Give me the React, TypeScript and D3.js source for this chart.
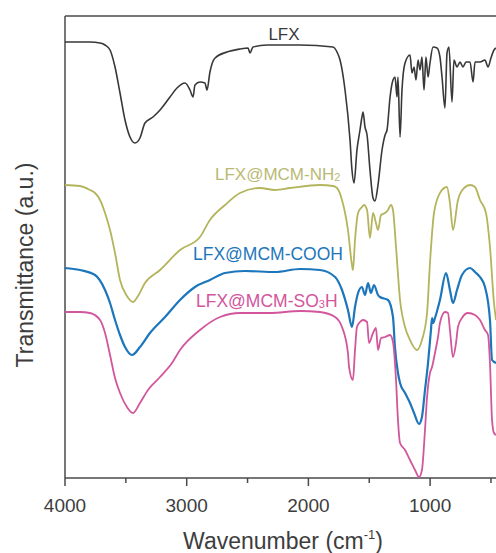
import React from "react";
import * as d3 from "d3";

const majorTicks = [4000, 3000, 2000, 1000];
const minorTicks = [3500, 2500, 1500, 500];

// [wavenumber (cm-1), transmittance (a.u., offset)]
const lfx: [number, number][] = [
  [4000, 436], [3795, 436], [3712, 435], [3671, 433], [3630, 428], [3589, 411], [3548, 385], [3507, 358], [3466, 341],
  [3425, 335], [3384, 340], [3343, 355], [3277, 361], [3219, 368], [3137, 381], [3080, 390],
  [3014, 395], [2973, 388], [2948, 381], [2932, 393], [2891, 396], [2850, 395], [2833, 388],
  [2809, 406], [2767, 420], [2669, 426], [2562, 429], [2496, 430], [2480, 425], [2455, 431],
  [2340, 433], [2069, 433], [1798, 431], [1765, 426], [1740, 418], [1699, 388], [1658, 338],
  [1642, 308], [1625, 295], [1601, 328], [1576, 348], [1560, 361], [1551, 366], [1535, 351],
  [1518, 343], [1494, 308], [1469, 280], [1453, 277], [1428, 293], [1395, 328], [1370, 343],
  [1354, 348], [1329, 381], [1305, 398], [1288, 401], [1272, 381], [1264, 401], [1247, 341],
  [1231, 388], [1206, 415], [1165, 423], [1149, 405], [1132, 411], [1116, 398], [1099, 418],
  [1083, 408], [1067, 421], [1050, 388], [1034, 421], [1017, 401], [1001, 415], [976, 431],
  [943, 430], [919, 421], [902, 401], [878, 370], [861, 425], [845, 431], [820, 376],
  [804, 418], [779, 411], [754, 416], [730, 411], [705, 416], [672, 416], [647, 396],
  [631, 416], [590, 416], [549, 418], [524, 411], [500, 420], [475, 428], [458, 430],
];

const nh2: [number, number][] = [
  [4000, 293], [3877, 292], [3795, 288], [3753, 285], [3712, 278], [3671, 265], [3630, 248], [3589, 225], [3548, 198], [3491, 182], [3441, 176], [3400, 182], [3343, 195],
  [3219, 208], [3055, 228], [2891, 241], [2809, 258], [2685, 273], [2562, 285], [2398, 290],
  [2274, 288], [2151, 290], [1905, 293], [1798, 292], [1765, 290], [1724, 278], [1675, 248], [1642, 213],
  [1634, 208], [1617, 238], [1592, 265], [1560, 271], [1543, 273], [1518, 268], [1494, 240],
  [1469, 265], [1445, 255], [1428, 248], [1403, 263], [1370, 265], [1346, 268], [1321, 273],
  [1305, 268], [1280, 231], [1247, 178], [1206, 151], [1165, 138], [1108, 128], [1067, 138],
  [1025, 165], [1001, 215], [968, 265], [919, 285], [861, 291], [837, 275], [812, 248],
  [771, 278], [721, 290], [672, 293], [631, 291], [590, 278], [541, 265], [508, 231],
  [475, 175], [458, 158],
];

const cooh: [number, number][] = [
  [4000, 210], [3877, 208], [3753, 203], [3671, 188], [3630, 175], [3589, 158], [3548, 143], [3507, 131], [3449, 123],
  [3384, 131], [3302, 145], [3178, 161], [3055, 178], [2932, 191], [2809, 198], [2685, 205],
  [2521, 207], [2274, 206], [2069, 209], [1905, 208], [1781, 201], [1724, 188], [1675, 168],
  [1642, 151], [1617, 171], [1592, 185], [1560, 191], [1535, 183], [1510, 195], [1486, 185],
  [1461, 193], [1428, 183], [1412, 181], [1346, 178], [1305, 161], [1289, 131], [1264, 105],
  [1247, 95], [1206, 85], [1165, 75], [1132, 65], [1091, 54], [1067, 61], [1042, 88],
  [1017, 115], [993, 148], [984, 160], [976, 155], [960, 160], [919, 178], [869, 205],
  [837, 188], [812, 175], [779, 188], [738, 203], [672, 210], [631, 206], [590, 201],
  [549, 191], [508, 158], [491, 118], [458, 115],
];

const so3h: [number, number][] = [
  [4000, 166], [3877, 166], [3795, 165], [3712, 158], [3671, 145], [3630, 123], [3589, 100], [3548, 85], [3491, 71],
  [3441, 65], [3384, 75], [3318, 88], [3219, 101], [3121, 115], [3055, 128], [2891, 148],
  [2726, 161], [2562, 165], [2316, 165], [2069, 167], [1905, 166], [1781, 161], [1724, 151],
  [1675, 125], [1666, 111], [1634, 98], [1617, 128], [1601, 151], [1576, 156], [1551, 158],
  [1518, 156], [1502, 135], [1469, 145], [1445, 150], [1428, 128], [1403, 140], [1370, 141],
  [1329, 143], [1305, 136], [1280, 98], [1264, 58], [1247, 35], [1206, 28], [1165, 18],
  [1124, 8], [1091, 1], [1067, 8], [1042, 48], [1025, 81], [1001, 105], [984, 111],
  [960, 125], [935, 141], [919, 155], [878, 166], [853, 165], [837, 148], [812, 121],
  [787, 135], [771, 151], [738, 160], [689, 165], [631, 163], [590, 158], [549, 148],
  [524, 143], [508, 115], [491, 58], [475, 45], [458, 43],
];

const W = 496;
const H = 553;
const left = 65;
const top = 16;
const bottom = 478;

export default function App() {
  const x = d3.scaleLinear().domain([4000, 400]).range([left, left + 3600 * 0.1217]);
  const y = d3.scaleLinear().domain([0, 462]).range([bottom, top]);
  const line = d3
    .line<[number, number]>()
    .x((d) => x(d[0]))
    .y((d) => y(d[1]))
    .curve(d3.curveMonotoneX);

  const axisColor = "#4a4a4a";
  const font = "'Liberation Sans', Arial, sans-serif";

  return (
    <svg
      width={W}
      height={H}
      style={{ position: "absolute", left: 0, top: 0, background: "#fff" }}
      fontFamily={font}
    >
      <rect x={0} y={0} width={W} height={H} fill="#fff" />
      {/* frame */}
      <line x1={left} x2={W} y1={top} y2={top} stroke={axisColor} strokeWidth={1.5} />
      <line x1={left} x2={left} y1={top} y2={bottom} stroke={axisColor} strokeWidth={1.5} />
      <line x1={left} x2={W} y1={bottom} y2={bottom} stroke={axisColor} strokeWidth={1.5} />
      {majorTicks.map((t) => (
        <g key={t}>
          <line x1={x(t)} x2={x(t)} y1={bottom} y2={bottom + 8} stroke={axisColor} strokeWidth={1.5} />
          <text x={x(t)} y={512} textAnchor="middle" fontSize={19} fill="#3d3d3d">
            {t}
          </text>
        </g>
      ))}
      {minorTicks.map((t) => (
        <line key={t} x1={x(t)} x2={x(t)} y1={bottom} y2={bottom + 5} stroke={axisColor} strokeWidth={1.5} />
      ))}

      {/* spectra */}
      <path d={line(lfx) || ""} fill="none" stroke="#383838" strokeWidth={1.6} strokeLinejoin="round" />
      <path d={line(nh2) || ""} fill="none" stroke="#b4b45c" strokeWidth={1.8} strokeLinejoin="round" />
      <path d={line(cooh) || ""} fill="none" stroke="#1c76bb" strokeWidth={2.2} strokeLinejoin="round" />
      <path d={line(so3h) || ""} fill="none" stroke="#d2569c" strokeWidth={1.8} strokeLinejoin="round" />

      {/* labels */}
      <text x={284} y={40} textAnchor="middle" fontSize={17} fill="#3a3a3a">LFX</text>
      <text x={215} y={180} fontSize={17} fill="#b9b974">
        LFX@MCM-NH<tspan fontSize={11} dy={1}>2</tspan>
      </text>
      <text x={193} y={260} fontSize={17.5} fill="#1c76bb">LFX@MCM-COOH</text>
      <text x={196} y={307} fontSize={17.5} fill="#d2569c">
        LFX@MCM-SO<tspan fontSize={11} dy={1}>3</tspan><tspan dy={-1}>H</tspan>
      </text>

      {/* axis titles */}
      <text x={283} y={549} textAnchor="middle" fontSize={23} fill="#3d3d3d">
        Wavenumber (cm<tspan fontSize={13} dy={-10}>-1</tspan><tspan dy={10}>)</tspan>
      </text>
      <text
        transform={`translate(33, 265) rotate(-90)`}
        textAnchor="middle"
        fontSize={23}
        fill="#3d3d3d"
      >
        Transmittance (a.u.)
      </text>
    </svg>
  );
}
